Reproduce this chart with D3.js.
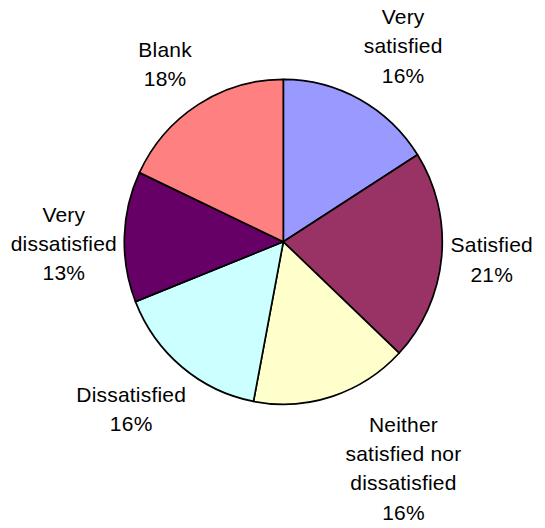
<!DOCTYPE html>
<html>
<head>
<meta charset="utf-8">
<script src="https://cdn.jsdelivr.net/npm/d3@7"></script>
<style>
  html, body { margin: 0; padding: 0; background: #ffffff; }
  svg { display: block; }
  text { font-family: "Liberation Sans", Arial, sans-serif; font-size: 21px; fill: #000; letter-spacing: 0.2px; }
</style>
</head>
<body>
<svg id="chart" width="545" height="528"></svg>
<script>
// Survey responses, clockwise from 12 o'clock
const categories = ["Very satisfied", "Satisfied", "Neither satisfied nor dissatisfied", "Dissatisfied", "Very dissatisfied", "Blank"];
const values = [16, 21, 16, 16, 13, 18];
const labelLines = [
  ["Very", "satisfied"],
  ["Satisfied"],
  ["Neither", "satisfied nor", "dissatisfied"],
  ["Dissatisfied"],
  ["Very", "dissatisfied"],
  ["Blank"]
];
const colors = ["#9999FF", "#993366", "#FFFFCC", "#CCFFFF", "#660066", "#FF8080"];

const W = 545, H = 528;
const cx = 283.3, cy = 241.8;
const ry = 162.5, rx = 159;     // pie is drawn very slightly narrower than tall
const lineH = 29.3;
const pad = 10;

// small hand adjustments that keep the labels clear of one another
const labelNudge = {
  "Very satisfied": [-1, -4.4],
  "Satisfied": [-1, 0.7],
  "Neither satisfied nor dissatisfied": [10, 8.7],
  "Dissatisfied": [10.5, 13.5],
  "Very dissatisfied": [2.6, 10.5],
  "Blank": [-0.7, -5.6]
};

const data = categories.map((c, i) => ({ category: c, value: values[i], color: colors[i], lines: labelLines[i].concat([values[i] + "%"]) }));

const svg = d3.select("#chart");

const pie = d3.pie().value(d => d.value).sort(null);
const arc = d3.arc().innerRadius(0).outerRadius(ry);
const arcs = pie(data);

const g = svg.append("g").attr("transform", `translate(${cx},${cy}) scale(${rx / ry},1)`);
g.selectAll("path")
  .data(arcs)
  .join("path")
  .attr("d", arc)
  .attr("fill", d => d.data.color)
  .attr("stroke", "#000")
  .attr("stroke-width", 1.7)
  .attr("stroke-linejoin", "round")
  .attr("vector-effect", "non-scaling-stroke");

// labels sit outside the rim along each slice's middle angle
const labels = svg.append("g");
arcs.forEach(a => {
  const mid = (a.startAngle + a.endAngle) / 2;
  const s = Math.sin(mid), c = Math.cos(mid);
  const px = cx + (rx + pad) * s;
  const py = cy - (ry + pad) * c;
  const n = a.data.lines.length;

  const t = labels.append("text").attr("text-anchor", "middle");
  a.data.lines.forEach((ln, i) => {
    t.append("tspan").attr("x", 0).attr("y", i * lineH).text(ln);
  });
  const w = t.node().getBBox().width;
  const h = n * lineH;
  const nudge = labelNudge[a.data.category];
  const bx = px + (w / 2) * Math.sign(s) + nudge[0];
  const by = py - (h / 2) * c + nudge[1];
  const firstBaseline = by - (n - 1) * lineH / 2 + 5.5;
  t.attr("transform", `translate(${bx},${firstBaseline})`);
});
</script>
</body>
</html>
